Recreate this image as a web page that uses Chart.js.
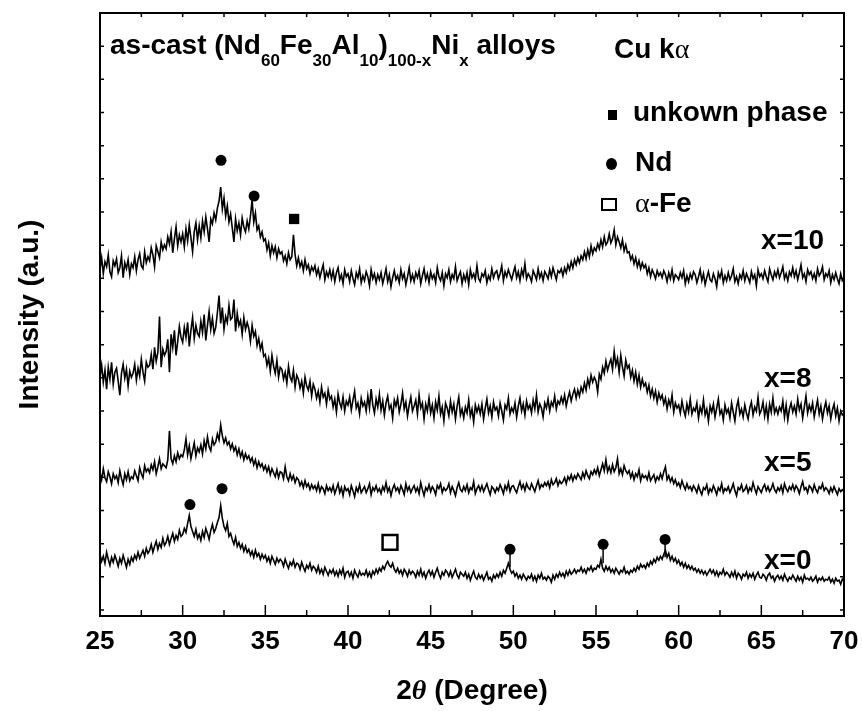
<!DOCTYPE html>
<html>
<head>
<meta charset="utf-8">
<script src="https://cdn.jsdelivr.net/npm/chart.js@4.4.1/dist/chart.umd.min.js"></script>
<style>
  body { margin: 0; background: #fff; }
  #wrap { position: relative; width: 862px; height: 711px; font-family: "Liberation Sans", Arial, sans-serif; font-weight: bold; color: #000; }
  #xrd { position: absolute; left: 0; top: 0; }
  .t { position: absolute; font-size: 28px; line-height: 28px; white-space: nowrap; }
  .t sub { font-size: 17px; vertical-align: -12px; line-height: 0; }
  .g { font-family: "Liberation Serif", serif; font-weight: normal; }
  .sq { position: absolute; background: #000; }
</style>
</head>
<body>
<div id="wrap">
  <canvas id="xrd" width="862" height="711"></canvas>
  <div class="t" style="left:110px;top:31px">as-cast (Nd<sub>60</sub>Fe<sub>30</sub>Al<sub>10</sub>)<sub>100-x</sub>Ni<sub>x</sub> alloys</div>
  <div class="t" style="left:614px;top:35px">Cu k<span class="g">α</span></div>
  <!-- legend symbols -->
  <div class="sq" style="left:608px;top:110px;width:9px;height:10px"></div>
  <div class="sq" style="left:606px;top:158px;width:11px;height:12px;border-radius:50%"></div>
  <div class="sq" style="left:601px;top:198px;width:12px;height:9px;background:none;border:2.5px solid #000"></div>
  <div class="t" style="left:633px;top:98px">unkown phase</div>
  <div class="t" style="left:635px;top:148px">Nd</div>
  <div class="t" style="left:635px;top:189px"><span class="g">α</span>-Fe</div>
  <!-- sample labels -->
  <div class="t" style="left:761px;top:226px">x=10</div>
  <div class="t" style="left:764px;top:364px">x=8</div>
  <div class="t" style="left:764px;top:448px">x=5</div>
  <div class="t" style="left:764px;top:546px">x=0</div>
  <div class="t" style="left:372px;width:200px;text-align:center;top:676px">2<span class="g" style="font-style:italic;font-weight:bold">θ</span> (Degree)</div>
</div>
<script>
// scan grid (2theta, degrees), one row below = 1 degree
const thetaStart = 25;
const thetaStep = 0.1;

// intensities, a.u. (offset per sample as in the figure)
const x10 = [
  348,360,344,356,351,363,346,341,357,352, // 25
  359,345,350,362,340,355,349,358,343,354,
  350,361,347,358,364,352,349,366,355,361,
  357,370,363,351,372,366,360,376,368,373,
  369,381,374,386,365,379,391,372,383,376,
  384,371,389,377,393,380,366,386,395,378, // 30
  392,380,397,386,401,389,376,399,394,405,
  398,410,417,431,409,420,402,412,396,404,
  390,376,399,387,395,383,400,391,386,397,
  389,402,418,396,405,388,392,381,386,377,
  379,368,375,362,372,365,371,360,369,364, // 35
  366,357,362,354,365,358,361,383,363,352,
  360,351,356,347,358,349,353,344,351,347,
  352,343,349,340,347,353,338,346,341,348,
  339,347,336,345,350,338,343,334,348,341,
  344,336,347,339,333,345,340,349,335,342, // 40
  337,346,341,332,348,339,344,335,343,338,
  345,334,341,349,336,343,331,340,347,338,
  342,335,348,339,344,333,341,350,337,343,
  336,345,340,347,334,342,349,338,344,335,
  346,339,343,335,350,341,337,345,332,344, // 45
  340,348,336,343,339,351,337,342,346,334,
  343,337,345,333,348,340,344,338,352,339,
  336,344,341,347,335,342,338,349,340,345,
  347,339,344,352,337,346,341,348,343,338,
  345,351,340,346,337,348,342,354,339,344, // 50
  341,336,347,343,338,349,340,345,337,346,
  343,339,348,341,350,344,338,347,345,349,
  342,350,345,353,348,356,350,358,353,360,
  355,362,358,366,359,368,361,372,364,370,
  367,374,369,378,371,381,373,376,384,375, // 55
  379,388,373,381,376,370,378,367,373,365,
  366,358,362,354,360,351,357,349,355,350,
  353,344,350,341,348,344,339,347,342,345,
  340,347,343,336,345,339,348,337,343,341,
  338,345,340,347,334,342,336,344,339,346, // 60
  343,335,341,348,337,344,333,340,346,338,
  336,344,339,331,345,340,347,335,342,337,
  345,338,342,349,336,341,334,343,339,347,
  337,344,340,335,346,339,343,332,348,341,
  344,339,347,341,336,349,343,338,346,341, // 65
  348,340,345,351,339,344,337,346,342,350,
  341,347,338,345,353,340,344,336,348,343,
  346,339,344,337,349,342,345,351,338,344,
  341,347,335,343,338,345,339,334,344,337,
  339 // 70
];
const x8 = [
  240,252,235,247,228,250,238,255,233,245, // 25
  249,236,222,244,253,239,248,231,246,240,
  244,253,237,249,241,258,245,236,255,250,
  252,263,248,270,256,265,301,250,268,262,
  266,278,245,283,270,287,262,276,291,280,
  275,290,280,295,271,287,300,279,292,284, // 30
  281,296,285,303,277,292,306,288,299,284,
  290,305,322,294,310,288,301,295,312,298,
  300,318,286,304,292,297,283,300,288,295,
  289,276,292,281,286,272,279,268,274,261,
  263,252,259,246,262,251,244,257,240,250, // 35
  248,238,245,234,251,240,236,247,230,242,
  238,229,236,224,240,231,227,236,221,233,
  228,219,226,215,230,220,224,213,227,218,
  221,210,218,205,223,214,209,220,206,216,
  212,220,207,217,226,209,214,203,219,211, // 40
  215,206,221,209,228,212,204,218,210,223,
  207,216,202,214,221,208,212,199,217,211,
  219,205,213,224,208,215,201,212,220,206,
  211,217,203,222,209,214,198,213,206,219,
  204,212,199,215,207,221,203,210,196,214, // 45
  209,201,216,205,213,198,211,220,202,208,
  199,210,204,217,201,208,195,212,205,211,
  203,213,198,209,218,204,211,200,215,207,
  210,201,214,206,197,212,208,219,203,209,
  205,214,200,211,219,206,213,202,216,208, // 50
  212,204,217,208,222,205,213,209,200,214,
  209,218,206,215,211,221,208,216,213,220,
  214,222,211,219,225,216,223,228,219,227,
  221,230,225,234,227,238,231,242,235,240,
  236,225,243,238,250,244,256,247,253,258, // 55
  248,266,252,259,245,262,250,241,257,249,
  252,240,247,236,245,233,242,230,238,231,
  234,225,232,221,228,219,226,215,224,218,
  222,213,219,208,217,211,222,205,214,209,
  212,204,216,207,201,213,205,218,203,209, // 60
  206,214,199,210,204,217,202,208,196,211,
  205,213,200,209,218,203,207,197,212,204,
  208,199,214,205,196,210,217,203,208,200,
  212,204,198,209,215,202,210,206,220,203,
  207,215,201,211,198,213,205,219,204,209, // 65
  203,210,206,216,200,212,197,208,214,205,
  211,203,218,207,213,199,210,221,204,212,
  206,214,200,209,217,203,211,198,208,215,
  204,211,198,207,213,201,209,196,206,202,
  204 // 70
];
const x5 = [
  144,137,148,139,135,145,140,133,143,138, // 25
  141,134,146,138,132,143,137,145,136,140,
  138,146,141,136,149,143,139,151,145,148,
  144,152,147,155,143,150,158,148,153,151,
  149,157,186,158,153,161,155,164,158,162,
  160,167,178,162,171,158,166,174,161,169, // 30
  165,172,163,176,168,180,170,166,178,172,
  175,183,177,192,181,174,179,172,175,168,
  173,166,170,162,168,160,165,157,163,158,
  161,155,159,152,157,149,155,150,153,147,
  151,145,150,142,148,144,140,147,139,145, // 35
  144,138,150,140,136,143,137,141,134,139,
  137,131,135,129,136,130,133,127,132,128,
  131,126,133,125,130,128,123,131,126,129,
  125,131,123,128,133,124,129,121,130,126,
  128,122,131,126,120,129,125,132,124,127, // 40
  130,124,128,133,122,129,126,131,125,128,
  123,130,126,134,125,129,121,128,132,126,
  129,124,131,127,122,133,126,130,124,128,
  131,125,129,123,134,127,121,129,126,132,
  125,130,127,122,131,128,133,124,129,126, // 45
  128,133,124,130,126,121,129,134,127,125,
  130,126,132,124,129,127,135,123,128,131,
  126,131,125,129,133,127,122,130,128,124,
  129,126,132,128,123,131,127,134,125,130,
  131,127,124,130,135,128,132,126,133,129, // 50
  127,133,129,125,131,136,128,132,130,134,
  131,135,129,137,132,134,138,131,136,133,
  135,139,133,140,137,142,136,141,138,143,
  140,137,144,139,146,141,138,145,142,147,
  143,149,141,147,153,146,157,145,150,144, // 55
  152,145,149,158,143,148,142,151,146,143,
  146,139,144,137,143,140,147,136,142,139,
  141,137,144,136,139,142,135,140,137,143,
  138,145,150,137,141,135,139,133,137,131,
  134,129,136,131,127,133,128,130,126,131, // 60
  128,124,131,126,122,129,127,132,123,128,
  125,131,127,122,129,126,133,124,128,126,
  130,124,128,133,126,121,129,127,132,125,
  127,131,124,129,126,134,128,123,130,127,
  124,129,132,126,130,125,128,133,127,124, // 65
  129,126,131,124,133,128,125,130,127,132,
  126,131,128,123,130,135,127,129,124,131,
  129,125,132,127,124,130,128,133,126,129,
  127,123,129,125,130,126,122,128,125,127,
  125 // 70
];
const x0 = [
  62,55,60,53,64,57,51,59,54,61, // 25
  56,50,58,53,61,55,49,57,52,59,
  55,61,57,64,58,62,66,60,68,63,
  66,72,64,70,75,67,73,69,78,71,
  74,80,72,78,83,75,81,77,86,80,
  82,88,84,93,101,90,85,80,87,78, // 30
  82,76,85,79,88,83,77,86,92,84,
  88,94,99,111,98,90,86,93,80,83,
  77,72,79,70,74,68,72,65,70,64,
  67,61,65,59,66,60,63,57,62,58,
  61,55,59,53,60,56,52,58,54,57, // 35
  55,50,57,52,48,54,51,56,49,53,
  52,47,54,49,45,51,48,53,46,50,
  48,44,50,43,47,42,49,45,41,46,
  43,47,41,45,40,46,42,48,39,44,
  45,40,44,38,46,42,39,45,41,43, // 40
  41,46,40,44,39,45,42,47,43,48,
  45,50,47,52,55,51,49,53,47,44,
  48,43,46,41,47,44,40,46,42,45,
  43,39,45,41,47,40,44,38,43,46,
  41,45,39,44,48,42,38,44,41,46, // 45
  44,40,45,39,43,47,41,38,44,42,
  40,44,38,42,36,41,45,39,37,42,
  38,41,36,40,44,37,39,35,41,38,
  42,39,44,40,46,43,48,53,47,43,
  45,40,43,38,41,37,42,39,36,40, // 50
  38,42,36,40,35,41,38,43,37,39,
  36,40,38,34,41,37,42,39,44,40,
  43,39,45,41,46,42,44,47,43,46,
  45,49,44,47,43,48,46,50,45,48,
  47,51,49,57,48,45,50,46,49,44, // 55
  47,43,48,45,42,46,44,49,43,45,
  42,46,44,48,45,50,47,52,49,51,
  48,53,50,55,52,57,54,59,56,60,
  57,62,66,59,63,56,60,55,58,53,
  56,51,54,49,53,48,51,47,50,46, // 60
  48,44,47,43,46,42,45,41,44,47,
  43,46,41,45,40,44,42,47,41,44,
  42,39,44,40,45,38,43,41,37,42,
  40,44,38,42,39,43,37,41,44,39,
  38,42,40,36,41,43,38,40,35,39, // 65
  41,37,40,36,42,38,35,39,37,41,
  38,35,40,36,39,34,41,37,38,36,
  39,35,37,40,34,38,36,39,35,37,
  36,39,34,37,33,38,35,36,32,37,
  35 // 70
];

// phase markers (2theta, height)
const ndX = [32.32, 34.32, 30.44, 32.38, 49.8, 55.43, 59.18];
const ndY = [458, 422, 112, 128, 67, 72, 77];
const unknownX = [36.74];
const unknownY = [399];
const feX = [42.54];
const feY = [74];
// short drop lines under some Nd markers
const stickX = [49.8, 55.43, 59.18];
const stickTop = [67, 72, 77];
const stickBottom = [49, 53, 59];

const xMin = 25, xMax = 70, xMajor = 5, xMinor = 2.5;
const yMin = 0, yMax = 606, yTickStep = 33.33;

const toPoints = arr => arr.map((v, i) => ({ x: thetaStart + i * thetaStep, y: v }));
const pairs = (xs, ys) => xs.map((v, i) => ({ x: v, y: ys[i] }));

const stickPts = [];
stickX.forEach((v, i) => {
  stickPts.push({ x: v, y: stickTop[i] }, { x: v, y: stickBottom[i] }, { x: v, y: null });
});

const traceStyle = { borderColor: '#000', borderWidth: 1.6, pointRadius: 0, tension: 0, fill: false };

// inward ticks + frame, like the original plotting program
const frameTicks = {
  id: 'frameTicks',
  afterDatasetsDraw(chart) {
    const { ctx, chartArea: a, scales: { x, y } } = chart;
    ctx.save();
    ctx.strokeStyle = '#000';
    ctx.lineWidth = 1.5;
    ctx.beginPath();
    for (let v = xMin; v <= xMax + 1e-6; v += xMinor) {
      const px = x.getPixelForValue(v);
      const major = Math.abs(v / xMajor - Math.round(v / xMajor)) < 1e-6;
      ctx.moveTo(px, a.bottom);
      ctx.lineTo(px, a.bottom - (major ? 11 : 6));
      ctx.moveTo(px, a.top);
      ctx.lineTo(px, a.top + 4);
    }
    for (let v = yMax; v >= yMin; v -= yTickStep) {
      const py = y.getPixelForValue(v);
      ctx.moveTo(a.left, py);
      ctx.lineTo(a.left + 4, py);
      ctx.moveTo(a.right, py);
      ctx.lineTo(a.right - 4, py);
    }
    ctx.stroke();
    ctx.lineWidth = 2;
    ctx.strokeRect(a.left, a.top, a.right - a.left, a.bottom - a.top);
    ctx.restore();
  }
};

new Chart(document.getElementById('xrd'), {
  type: 'line',
  data: {
    datasets: [
      { label: 'x=10', data: toPoints(x10), ...traceStyle },
      { label: 'x=8', data: toPoints(x8), ...traceStyle },
      { label: 'x=5', data: toPoints(x5), ...traceStyle },
      { label: 'x=0', data: toPoints(x0), ...traceStyle },
      { label: 'sticks', data: stickPts, borderColor: '#000', borderWidth: 1.5, pointRadius: 0, spanGaps: false },
      { label: 'Nd', type: 'scatter', data: pairs(ndX, ndY), pointStyle: 'circle', pointRadius: 5.5,
        backgroundColor: '#000', borderColor: '#000', borderWidth: 0 },
      { label: 'unkown phase', type: 'scatter', data: pairs(unknownX, unknownY), pointStyle: 'rect', pointRadius: 7.3,
        backgroundColor: '#000', borderColor: '#000', borderWidth: 0 },
      { label: 'α-Fe', type: 'scatter', data: pairs(feX, feY), pointStyle: 'rect', pointRadius: 10.5,
        backgroundColor: '#fff', borderColor: '#000', borderWidth: 2.5 }
    ]
  },
  options: {
    responsive: false,
    animation: false,
    devicePixelRatio: 1,
    layout: { padding: { top: 10, right: 18, left: 0, bottom: 0 } },
    plugins: { legend: { display: false }, tooltip: { enabled: false } },
    scales: {
      x: {
        type: 'linear', min: xMin, max: xMax,
        afterFit(s) { s.height = 95; s.paddingRight = 0; s.paddingLeft = 0; },
        grid: { display: false, drawTicks: false },
        border: { display: false },
        ticks: { stepSize: xMajor, padding: 10, color: '#000',
          font: { family: 'Liberation Sans', size: 26, weight: 'bold' } }
      },
      y: {
        min: yMin, max: yMax,
        afterFit(s) { s.width = 100; },
        grid: { display: false, drawTicks: false },
        border: { display: false },
        ticks: { display: false },
        title: { display: true, text: 'Intensity (a.u.)', color: '#000', padding: { top: 13, bottom: 0 },
          font: { family: 'Liberation Sans', size: 28, weight: 'bold' } }
      }
    }
  },
  plugins: [frameTicks]
});
</script>
</body>
</html>
